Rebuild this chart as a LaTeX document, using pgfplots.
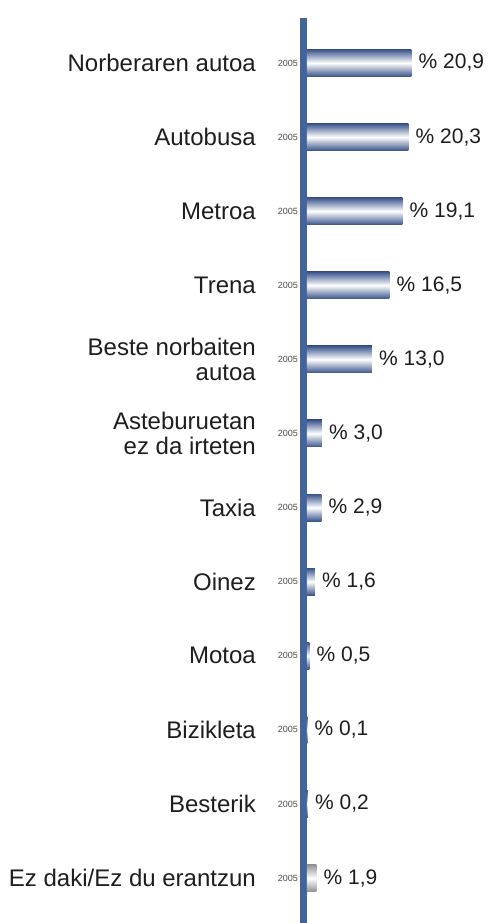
\documentclass[border=0pt]{standalone}
\usepackage{pgfplots}
\pgfplotsset{compat=1.18}
\usepackage{fontspec}
\setmainfont{Liberation Sans}
\definecolor{axisblue}{RGB}{67,100,155}
\definecolor{bardark}{RGB}{58,84,138}
\definecolor{bargray}{RGB}{145,145,145}
\definecolor{txt}{RGB}{30,30,30}
\pgfplotsset{mybar/.style={xbar, bar width=27pt, bar shift=0pt, draw=none, top color=#1, bottom color=#1, middle color=white}}
\begin{document}
\begin{tikzpicture}[x=1pt,y=1pt]
\useasboundingbox (-303.5,0) rectangle (183.5,923);
\begin{axis}[
  at={(0,0)}, anchor=south west,
  scale only axis, width=183.5pt, height=905pt,
  xmin=-0.7, xmax=36,
  ymin=-0.607, ymax=11.606, y dir=reverse,
  axis x line=none, axis y line*=left,
  y axis line style={line width=7pt, draw=axisblue},
  clip=false,
  major tick length=0pt,
  ytick={0,...,11},
  yticklabels={Norberaren autoa, Autobusa, Metroa, Trena, Beste norbaiten\\autoa, Asteburuetan\\ez da irteten, Taxia, Oinez, Motoa, Bizikleta, Besterik, Ez daki/Ez du erantzun},
  yticklabel style={font=\fontsize{24}{24.5}\selectfont, align=right, inner sep=0pt, anchor=east, xshift=-47.5pt, text=txt},
  extra y ticks={0,...,11},
  extra y tick labels={2005,2005,2005,2005,2005,2005,2005,2005,2005,2005,2005,2005},
  extra y tick style={yticklabel style={font=\fontsize{9}{9}\selectfont, xshift=42pt, text=txt!80}},
  /pgf/number format/assume math mode=true,
  nodes near coords={\%~\pgfmathprintnumber[fixed,fixed zerofill,precision=1,use comma]{\pgfplotspointmeta}},
  every node near coord/.append style={anchor=west, inner sep=0pt, xshift=7pt, font=\fontsize{21}{21}\selectfont, text=txt},
  point meta=x,
]
\addplot[mybar=bardark] coordinates {(20.9,0)};
\addplot[mybar=bardark] coordinates {(20.3,1)};
\addplot[mybar=bardark] coordinates {(19.1,2)};
\addplot[mybar=bardark] coordinates {(16.5,3)};
\addplot[mybar=bardark] coordinates {(13.0,4)};
\addplot[mybar=bardark] coordinates {(3.0,5)};
\addplot[mybar=bardark] coordinates {(2.9,6)};
\addplot[mybar=bardark] coordinates {(1.6,7)};
\addplot[mybar=bardark] coordinates {(0.5,8)};
\addplot[mybar=bardark] coordinates {(0.1,9)};
\addplot[mybar=bardark] coordinates {(0.2,10)};
\addplot[mybar=bargray] coordinates {(1.9,11)};
\end{axis}
\end{tikzpicture}
\end{document}
